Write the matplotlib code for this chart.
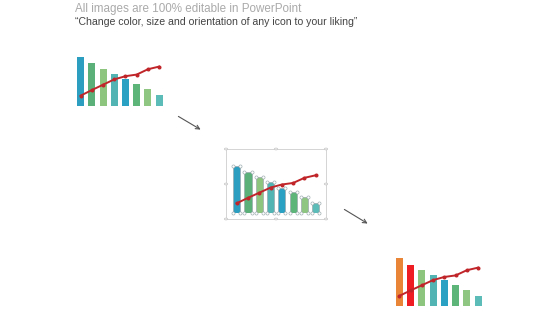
import matplotlib
matplotlib.use("Agg")
import matplotlib.pyplot as plt
from matplotlib.patches import Rectangle, FancyArrowPatch

W, H = 560, 315

# chart data (same mini chart repeated three times)
bar_values = [9.2, 8.0, 7.0, 6.0, 5.0, 4.05, 3.1, 2.0]
line_values = [1.95, 3.0, 4.0, 5.0, 5.6, 5.9, 6.9, 7.4]
colors_a = ['#2C9FC0', '#5BB07A', '#8DC47E', '#52B5B3',
            '#2AA0C2', '#5DB57A', '#8EC682', '#5BBCB8']
colors_c = ['#E88537', '#EE1D23', '#8DC47E', '#52B5B3',
            '#2AA0C2', '#5DB57A', '#8EC682', '#5BBCB8']

title = "All images are 100% editable in PowerPoint"
subtitle = "\u201cChange color, size and orientation of any icon to your liking\u201d"

plt.rcParams['font.family'] = ['Liberation Sans', 'DejaVu Sans']

fig = plt.figure(figsize=(W / 100, H / 100), dpi=100)
fig.patch.set_facecolor('white')


def px_axes(left, top, width, height):
    """add axes from pixel box measured from top-left corner"""
    return fig.add_axes([left / W, 1 - (top + height) / H, width / W, height / H])


def mini_chart(ax, colors, selected=False):
    xs = range(len(bar_values))
    bars = ax.bar(xs, bar_values, width=0.63, color=colors,
                  edgecolor='#9aa8ad' if selected else 'none',
                  linewidth=0.5 if selected else 0)
    ax.plot(xs, line_values, color='#C0252A', lw=1.4, marker='o',
            markersize=1.9, zorder=3)
    if selected:
        for b in bars:
            x0, x1 = b.get_x(), b.get_x() + b.get_width()
            y1 = b.get_height()
            ax.scatter([x0, x1, x0, x1], [0, 0, y1, y1], s=5,
                       facecolor='white', edgecolor='#9aa8ad',
                       linewidth=0.45, zorder=4, clip_on=False)
    ax.set_xlim(-0.5, len(bar_values) - 0.5)
    ax.set_ylim(0, bar_values[0])
    ax.axis('off')


ax1 = px_axes(75.1, 57, 89.6, 49)
mini_chart(ax1, colors_a)

ax2 = px_axes(231, 166, 90.4, 47.3)
mini_chart(ax2, colors_a, selected=True)

ax3 = px_axes(393.7, 258.3, 90, 47.7)
mini_chart(ax3, colors_c)

# selection frame around the middle chart
fl, ft, fw, fh = 226, 149, 100, 70
frame = Rectangle((fl / W, 1 - (ft + fh) / H), fw / W, fh / H,
                  transform=fig.transFigure, fill=False,
                  edgecolor='#d4d4d4', linewidth=0.7)
fig.add_artist(frame)
hx = [fl, fl + fw / 2, fl + fw]
hy = [ft, ft + fh / 2, ft + fh]
for x in hx:
    for y in hy:
        if x == fl + fw / 2 and y == ft + fh / 2:
            continue
        fig.add_artist(plt.Circle((x / W, 1 - y / H), 1.6 / W,
                                  transform=fig.transFigure,
                                  facecolor='white', edgecolor='#c8c8c8',
                                  linewidth=0.6))

# arrows
for (x0, y0, x1, y1) in [(176, 115, 203, 131), (342, 208, 370, 225)]:
    fig.add_artist(FancyArrowPatch((x0 / W, 1 - y0 / H), (x1 / W, 1 - y1 / H),
                                   transform=fig.transFigure,
                                   arrowstyle='->', mutation_scale=7,
                                   color='#555555', linewidth=0.8))

fig.text(75 / W, 1 - 9 / H, title, fontsize=8.4, color='#AAAAAA', va='center')
fig.text(75 / W, 1 - 22 / H, subtitle, fontsize=7.55, color='#444444', va='center')

fig.savefig('out.png', dpi=100)
